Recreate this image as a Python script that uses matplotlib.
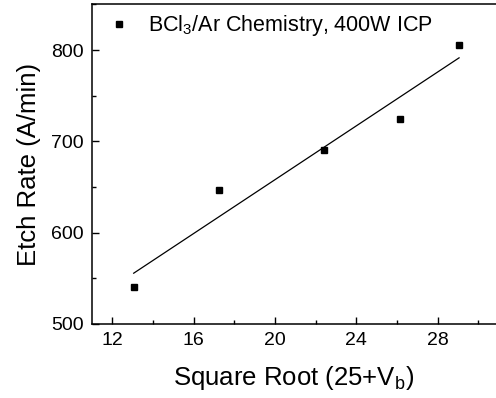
import numpy as np
import matplotlib
matplotlib.use('Agg')
import matplotlib.pyplot as plt
from matplotlib.ticker import MultipleLocator, FixedLocator

plt.rcParams['font.family'] = ['Liberation Sans', 'DejaVu Sans']
plt.rcParams['mathtext.fontset'] = 'custom'
plt.rcParams['mathtext.rm'] = 'Liberation Sans'
plt.rcParams['mathtext.it'] = 'Liberation Sans'
plt.rcParams['mathtext.default'] = 'regular'

# datos
raiz_vb = [13.05, 17.26, 22.42, 26.14, 29.05]
etch_rate = [540, 647, 690, 724, 806]
xticks = [12, 16, 20, 24, 28]
etiqueta = r'BCl$_3$/Ar Chemistry, 400W ICP'

# ajuste lineal
m, b = np.polyfit(raiz_vb, etch_rate, 1)
x_fit = np.array([min(raiz_vb), max(raiz_vb)])
y_fit = m * x_fit + b

fig = plt.figure(figsize=(4.96, 3.98), dpi=100)
ax = fig.add_axes([0.1855, 0.186, 0.861, 0.803])

ax.plot(raiz_vb, etch_rate, 's', color='black', markersize=5, label=etiqueta)
ax.plot(x_fit, y_fit, '-', color='black', linewidth=0.9)

ax.set_xlim(11, 32)
ax.set_ylim(500, 850)
ax.xaxis.set_major_locator(FixedLocator(xticks))
ax.xaxis.set_minor_locator(FixedLocator([14, 18, 22, 26, 30]))
ax.yaxis.set_major_locator(MultipleLocator(100))
ax.yaxis.set_minor_locator(MultipleLocator(50))
ax.tick_params(which='both', direction='in', top=False, right=False, labelsize=14, width=1)
ax.tick_params(which='major', length=5, pad=6)
ax.tick_params(which='minor', length=3)
for s in ax.spines.values():
    s.set_linewidth(1.1)

ax.set_xlabel('Square Root (25+V$_b$)', fontsize=18.5)
ax.set_ylabel('Etch Rate (A/min)', fontsize=18.5)
ax.xaxis.set_label_coords(0.473, -0.125)
ax.yaxis.set_label_coords(-0.12, 0.5)

ax.legend(loc='upper left', frameon=False, fontsize=15.5, handletextpad=0.6,
          borderaxespad=0.3, handlelength=1.5, markerscale=1.0,
          bbox_to_anchor=(-0.01, 1.02))

fig.savefig('out.png', dpi=100)
